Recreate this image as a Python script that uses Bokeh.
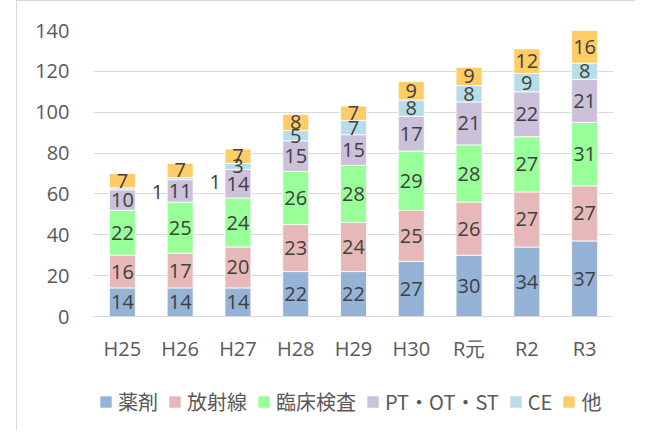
from bokeh.plotting import figure
from bokeh.layouts import column
from bokeh.models import (ColumnDataSource, FactorRange, Range1d, FixedTicker,
                          Legend, LegendItem)
from bokeh.core.properties import value
from bokeh.embed import file_html
from bokeh.resources import INLINE

years = ["H25", "H26", "H27", "H28", "H29", "H30", "R元", "R2", "R3"]
series = ["薬剤", "放射線", "臨床検査", "PT・OT・ST", "CE", "他"]
yakuzai = [14, 14, 14, 22, 22, 27, 30, 34, 37]
houshasen = [16, 17, 20, 23, 24, 25, 26, 27, 27]
rinsho = [22, 25, 24, 26, 28, 29, 28, 27, 31]
ptotst = [10, 11, 14, 15, 15, 17, 21, 22, 21]
ce = [1, 1, 3, 5, 7, 8, 8, 9, 8]
other = [7, 7, 7, 8, 7, 9, 9, 12, 16]
colors = ["#95B3D7", "#E6B9B8", "#99FF99", "#CCC1DA", "#B7DEE8", "#FFCC66"]
y_ticks = [0, 20, 40, 60, 80, 100, 120, 140]

cols = [yakuzai, houshasen, rinsho, ptotst, ce, other]
keys = ["s0", "s1", "s2", "s3", "s4", "s5"]
data = {"x": years}
for k, c in zip(keys, cols):
    data[k] = c
src = ColumnDataSource(data)

p = figure(x_range=FactorRange(factors=years), y_range=Range1d(0, 140),
           width=619, height=374, output_backend="svg", toolbar_location=None,
           min_border_left=76, min_border_right=23, min_border_top=29,
           min_border_bottom=59)
p.margin = (0, 0, 0, 16)
p.styles = {"border-left": "1px solid #d9d9d9", "border-top": "1px solid #d9d9d9"}
p.outline_line_color = None

p.vbar_stack(keys, x="x", width=0.45, color=colors, source=src,
             line_color="white", line_width=0.8)

# data labels
lx, ly, lt, xo, yo = [], [], [], [], []
for i, yr in enumerate(years):
    base = 0
    for j, c in enumerate(cols):
        v = c[i]
        lx.append(yr)
        ly.append(base + v / 2)
        lt.append(str(v))
        if j == 4 and v == 1:
            xo.append(35)
            yo.append(3)
        else:
            xo.append(0)
            yo.append(0)
        base += v
lsrc = ColumnDataSource(dict(x=lx, y=ly, t=lt, xo=xo, yo=yo))
p.text(x="x", y="y", text="t", x_offset="xo", y_offset="yo", source=lsrc,
       text_align="center", text_baseline="middle",
       text_font=value("Open Sans"), text_font_size="20px", text_color="#404040")

p.yaxis.ticker = FixedTicker(ticks=y_ticks)
p.ygrid.ticker = FixedTicker(ticks=y_ticks)
p.xgrid.grid_line_color = None
p.ygrid.grid_line_color = "#d9d9d9"
p.ygrid.grid_line_width = 1
for ax in (p.xaxis, p.yaxis):
    ax.major_tick_line_color = None
    ax.minor_tick_line_color = None
    ax.major_label_text_font = "Open Sans"
    ax.major_label_text_font_size = "20px"
    ax.major_label_text_color = "#595959"
p.yaxis.axis_line_color = None
p.xaxis.axis_line_color = "#d9d9d9"
p.yaxis.major_label_standoff = 18
p.xaxis.major_label_standoff = 12

# legend strip (bars of the same data, kept out of view; only the legend shows)
p2 = figure(width=619, height=56, x_range=FactorRange(factors=years),
            y_range=Range1d(1000, 1001),
            x_axis_location=None, y_axis_location=None,
            output_backend="svg", toolbar_location=None,
            min_border=0, min_border_left=0, min_border_right=0,
            min_border_top=0, min_border_bottom=0)
p2.margin = (0, 0, 0, 16)
p2.styles = {"border-left": "1px solid #d9d9d9"}
p2.grid.visible = False
p2.outline_line_color = None
lrs = p2.vbar_stack(keys, x="x", width=0.45, color=colors, source=src)
items = [LegendItem(label=s, renderers=[r]) for s, r in zip(series, lrs)]
legend = Legend(items=items, orientation="horizontal", location=(6, 14),
                glyph_width=13, glyph_height=13, label_standoff=6, spacing=10,
                padding=0, margin=0, border_line_color=None,
                background_fill_alpha=0,
                label_text_font="Noto Sans CJK JP", label_text_font_size="20px",
                label_text_color="#595959")
p2.add_layout(legend)

layout = column(p, p2, spacing=0)
open("out.html", "w").write(file_html(layout, INLINE))
